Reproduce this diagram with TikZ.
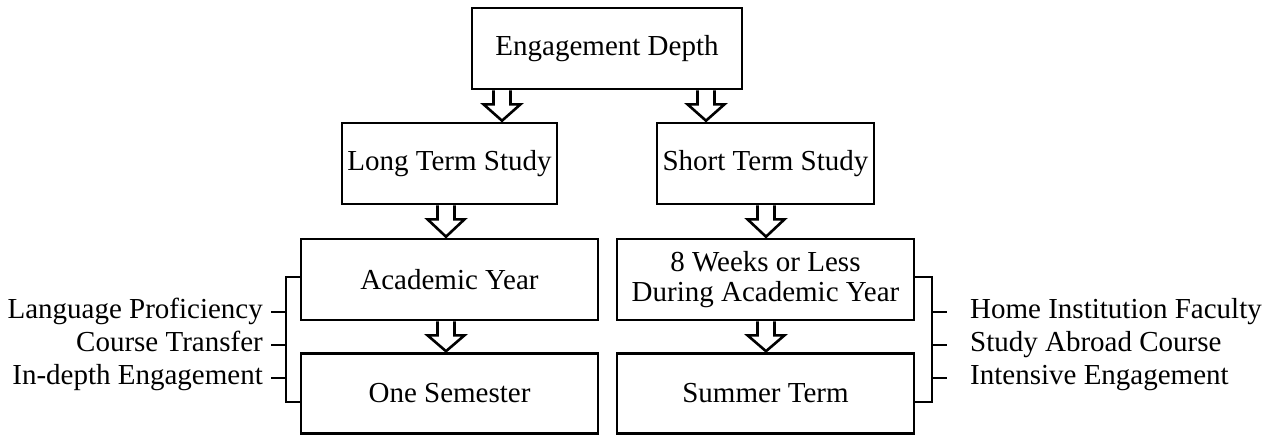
\documentclass[tikz,border=0pt]{standalone}
\usepackage{fontspec}
\setmainfont{Liberation Serif}
\usetikzlibrary{calc}
\tikzset{
  box/.style={draw, line width=2.6pt, inner sep=0pt, align=center, font=\fontsize{29}{30}\selectfont},
  harrow/.style={draw, line width=2.6pt, line join=miter},
  bracket/.style={draw, line width=1.1pt},
  lbl/.style={inner sep=0pt, font=\fontsize{29}{30}\selectfont}
}
\newcommand\hollowarrow[2]{%
  \draw[harrow] let \p1=(#1), \p2=(#2) in
    (\x1-8.5pt,\y1) -- (\x1-8.5pt,\y1-14pt) -- (\x1-18.5pt,\y1-14pt) -- (\x1,\y2+1pt)
    -- (\x1+18.5pt,\y1-14pt) -- (\x1+8.5pt,\y1-14pt) -- (\x1+8.5pt,\y1);}
\begin{document}
\begin{tikzpicture}[x=1pt,y=-1pt]
\useasboundingbox[fill=white] (0,0) rectangle (1269,436);
% boxes
\node[box, minimum width=270pt, minimum height=81pt] (ED) at (607,48.5) {Engagement Depth};
\node[box, minimum width=215pt, minimum height=81pt] (LT) at (449.5,163.5) {Long Term Study};
\node[box, minimum width=217pt, minimum height=81pt] (ST) at (765.5,163.5) {Short Term Study};
\node[box, minimum width=297pt, minimum height=81pt] (AY) at (449.5,279.5) {Academic Year};
\node[box, minimum width=297pt, minimum height=80pt] (OS) at (449.5,393.5) {One Semester};
\node[box, minimum width=297pt, minimum height=81pt] (EW) at (765.5,279.5) {8 Weeks or Less\\During Academic Year};
\node[box, minimum width=297pt, minimum height=80pt] (SU) at (765.5,393.5) {Summer Term};
% hollow arrows
\hollowarrow{ED.south -| 502,0}{LT.north -| 502,0}
\hollowarrow{ED.south -| 706,0}{ST.north -| 706,0}
\hollowarrow{LT.south -| 446,0}{AY.north -| 446,0}
\hollowarrow{ST.south -| 766,0}{EW.north -| 766,0}
\hollowarrow{AY.south -| 446,0}{OS.north -| 446,0}
\hollowarrow{EW.south -| 766,0}{SU.north -| 766,0}
% left labels and bracket
\node[lbl, anchor=base east] (L1) at (263,318) {Language Proficiency};
\node[lbl, anchor=base east] (L2) at (263,351) {Course Transfer};
\node[lbl, anchor=base east] (L3) at (263,384) {In-depth Engagement};
\draw[bracket] (AY.west |- 0,277) -- (286,277) -- (286,402) -- (OS.west |- 0,402);
\draw[bracket] ([xshift=8pt,yshift=6pt]L1.base east) -- ++(15,0);
\draw[bracket] ([xshift=8pt,yshift=6pt]L2.base east) -- ++(15,0);
\draw[bracket] ([xshift=8pt,yshift=6pt]L3.base east) -- ++(15,0);
% right labels and bracket
\node[lbl, anchor=base west] (R1) at (970,318) {Home Institution Faculty};
\node[lbl, anchor=base west] (R2) at (970,351) {Study Abroad Course};
\node[lbl, anchor=base west] (R3) at (970,384) {Intensive Engagement};
\draw[bracket] (EW.east |- 0,277) -- (932,277) -- (932,402) -- (SU.east |- 0,402);
\draw[bracket] ([xshift=-38pt,yshift=6pt]R1.base west) -- ++(15,0);
\draw[bracket] ([xshift=-38pt,yshift=6pt]R2.base west) -- ++(15,0);
\draw[bracket] ([xshift=-38pt,yshift=6pt]R3.base west) -- ++(15,0);
\end{tikzpicture}
\end{document}
